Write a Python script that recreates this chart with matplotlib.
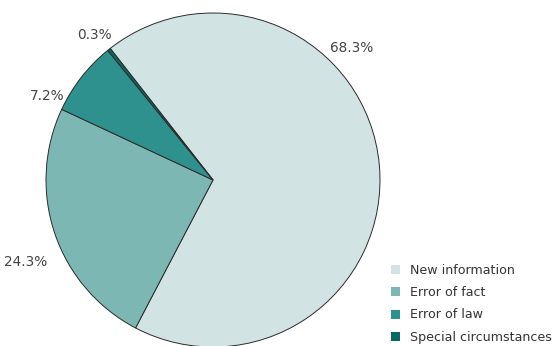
import matplotlib
matplotlib.use("Agg")
import matplotlib.pyplot as plt

categories = ["New information", "Error of fact", "Error of law", "Special circumstances"]
shares = [68.3, 24.3, 7.2, 0.3]
pct_labels = ["68.3%", "24.3%", "7.2%", "0.3%"]
colors = ["#d1e3e3", "#7db7b4", "#2f918d", "#0b6965"]
# where each percent label sits (axes data units, pie radius = 1)
label_pos = [(0.83, 0.79), (-1.12, -0.49), (-0.99, 0.50), (-0.71, 0.87)]

fig = plt.figure(figsize=(5.54, 3.46), dpi=100)
cx, cy, r = 213, 180, 167
ax = fig.add_axes([(cx - r) / 554, (346 - cy - r) / 346, 2 * r / 554, 2 * r / 346])
wedges, _ = ax.pie(shares, colors=colors, startangle=128, counterclock=False,
                   wedgeprops=dict(edgecolor="#2b2b2b", linewidth=0.7))
ax.set_xlim(-1, 1)
ax.set_ylim(-1, 1)
ax.set_aspect("equal")
ax.axis("off")

for txt, (x, y) in zip(pct_labels, label_pos):
    ax.text(x, y, txt, ha="center", va="center", fontsize=9.8, color="#444444")

fig.legend(wedges, categories, loc="upper left", bbox_to_anchor=(391 / 554, 1 - 264 / 346),
           frameon=False, fontsize=9.1, handlelength=0.72, handleheight=0.72,
           handletextpad=0.75, labelspacing=0.73, borderaxespad=0, borderpad=0,
           labelcolor="#333333")
for h in fig.legends[0].legend_handles:
    h.set_edgecolor("none")

fig.savefig("out.png", dpi=100)
